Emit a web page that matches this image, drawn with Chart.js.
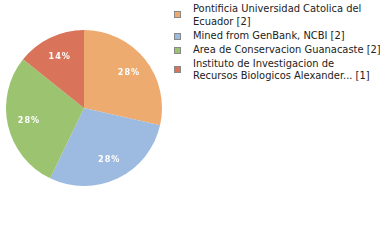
<!DOCTYPE html>
<html>
<head>
<meta charset="utf-8">
<script src="https://cdn.jsdelivr.net/npm/chart.js@4"></script>
<style>
  html, body { margin: 0; padding: 0; background: #fff; }
  #wrap { position: relative; width: 380px; height: 240px; overflow: hidden; }
  #pieBox { position: absolute; left: 0; top: 0; width: 168px; height: 216px; }
  #legend { position: absolute; left: 172px; top: 3px; width: 208px;
    font-family: "DejaVu Sans Condensed", "DejaVu Sans", sans-serif; font-size: 11px; color: #222; }
  .item { position: relative; padding-left: 21px; line-height: 12.5px; margin-bottom: 1.5px; white-space: pre; }
  .sw { position: absolute; left: 2px; top: 8px; width: 5px; height: 5px; border: 1px solid #888; }
</style>
</head>
<body>
<div id="wrap">
  <div id="pieBox"><canvas id="pie"></canvas></div>
  <div id="legend"></div>
</div>
<script>
const sources = [
    'Pontificia Universidad Catolica del\nEcuador',
    'Mined from GenBank, NCBI',
    'Area de Conservacion Guanacaste',
    'Instituto de Investigacion de\nRecursos Biologicos Alexander...'
];
const counts = [2, 2, 2, 1];
const sliceColors = ['#eeab6f', '#9dbae0', '#9cc370', '#d9735a'];

const total = counts.reduce((a, b) => a + b, 0);

// legend beside the pie, wrapped like the original
const legend = document.getElementById('legend');
sources.forEach((name, i) => {
    const item = document.createElement('div');
    item.className = 'item';
    item.textContent = name + ' [' + counts[i] + ']';
    const sw = document.createElement('span');
    sw.className = 'sw';
    sw.style.background = sliceColors[i];
    if (name.indexOf('\n') < 0) sw.style.top = '3px';
    item.appendChild(sw);
    legend.appendChild(item);
});

const sliceLabels = {
    id: 'sliceLabels',
    afterDatasetsDraw(chart) {
        const ctx = chart.ctx;
        const meta = chart.getDatasetMeta(0);
        ctx.save();
        ctx.fillStyle = '#fff';
        ctx.font = 'bold 9px "DejaVu Sans Condensed", "DejaVu Sans", sans-serif';
        ctx.letterSpacing = '1px';
        ctx.textAlign = 'center';
        ctx.textBaseline = 'middle';
        meta.data.forEach((arc, i) => {
            const mid = (arc.startAngle + arc.endAngle) / 2;
            const r = arc.outerRadius * 0.73;
            const pct = Math.floor(counts[i] / total * 100) + '%';
            ctx.fillText(pct, arc.x + Math.cos(mid) * r + 0.5, arc.y + Math.sin(mid) * r);
        });
        ctx.restore();
    }
};

document.addEventListener('DOMContentLoaded', function() {
    const ctx = document.getElementById('pie').getContext('2d');
    new Chart(ctx, {
        type: 'pie',
        data: {
            labels: sources,
            datasets: [{
                data: counts,
                backgroundColor: sliceColors,
                borderWidth: 0
            }]
        },
        options: {
            responsive: true,
            maintainAspectRatio: false,
            animation: false,
            layout: { padding: 6 },
            plugins: {
                legend: { display: false },
                tooltip: { enabled: false }
            }
        },
        plugins: [sliceLabels]
    });
});
</script>
</body>
</html>
